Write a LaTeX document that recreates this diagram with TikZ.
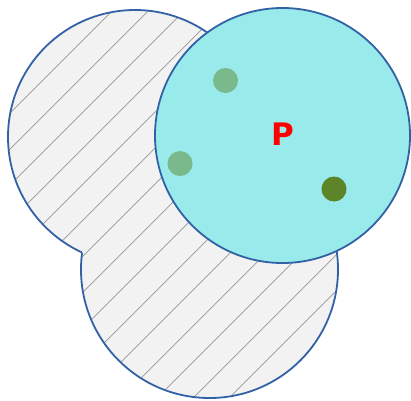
\documentclass[tikz,border=0pt]{standalone}
\usepackage{fontspec}
\newfontfamily\labelfont{DejaVu Sans}
\usetikzlibrary{positioning}

\definecolor{rimblue}{RGB}{50,97,165}
\definecolor{areagray}{RGB}{242,242,242}
\definecolor{hatchgray}{RGB}{150,150,150}
\definecolor{ballcyan}{RGB}{153,234,234}
\definecolor{dotlight}{RGB}{122,185,139}
\definecolor{dotdark}{RGB}{91,133,40}

\begin{document}
\begin{tikzpicture}[x=1pt, y=-1pt,
    rim/.style={draw=rimblue, line width=1.8pt},
    hatchline/.style={draw=hatchgray, line width=0.7pt},
    dot/.style={circle, fill=#1, minimum size=25pt, inner sep=0pt}]
  \useasboundingbox (0,0) rectangle (411,400);
  \coordinate (upper) at (135,137);
  \coordinate (lower) at (209.5,269.5);
  \coordinate (ball) at (282.5,135.5);
  % hatched region
  \fill[areagray] (upper) circle[radius=127] (lower) circle[radius=128.5];
  \begin{scope}
    \clip (upper) circle[radius=127] (lower) circle[radius=128.5];
    \foreach \c in {15,51,...,699}
      \draw[hatchline] ({\c-420},420) -- (\c,0);
  \end{scope}
  \begin{scope}[even odd rule]
    \clip (-10,-10) rectangle (421,410) (lower) circle[radius=128.5];
    \draw[rim] (upper) circle[radius=127];
  \end{scope}
  \begin{scope}[even odd rule]
    \clip (-10,-10) rectangle (421,410) (upper) circle[radius=127];
    \draw[rim] (lower) circle[radius=128.5];
  \end{scope}
  % ball around P
  \draw[rim, fill=ballcyan] (ball) circle[radius=127.5];
  \node[dot=dotlight] (d1) at (225.5,80.5) {};
  \node[dot=dotlight] (d2) at (180,163.5) {};
  \node[dot=dotdark] (d3) at (334,189) {};
  \node[text=red, font=\labelfont\bfseries\fontsize{31}{31}\selectfont] (p) at (283,134.5) {P};
\end{tikzpicture}
\end{document}
